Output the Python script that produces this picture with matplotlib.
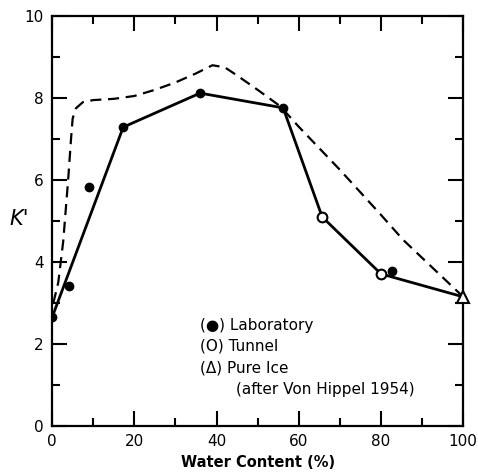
import numpy as np
import matplotlib
matplotlib.use("Agg")
from matplotlib import pyplot as plt
from matplotlib.ticker import MultipleLocator

# laboratory (filled circles), tunnel (open circles), pure ice (triangle)
lab_x = [0, 4.1, 9.0, 17.3, 36.0, 56.2, 82.7]
lab_y = [2.65, 3.41, 5.83, 7.29, 8.12, 7.76, 3.78]
tun_x = [65.7, 80.0]
tun_y = [5.10, 3.71]
ice_x = [100]
ice_y = [3.15]

# solid curve through selected points
solid_x = [0, 17.3, 36.0, 56.2, 65.7, 80.0, 100]
solid_y = [2.65, 7.29, 8.12, 7.76, 5.10, 3.71, 3.15]

# dashed curve
dash_x = [0.3, 1.5, 2.7, 3.9, 4.6, 5.0, 5.8, 7.5, 10, 15, 20, 25, 30, 35, 39,
          42, 45, 50, 55.5, 60, 70, 80, 85.4, 100]
dash_y = [3.0, 3.5, 4.5, 6.0, 7.0, 7.5, 7.75, 7.9, 7.95, 7.98, 8.05, 8.2, 8.38,
          8.6, 8.8, 8.75, 8.55, 8.2, 7.8, 7.3, 6.25, 5.15, 4.54, 3.15]

legend_lines = ["(\u25cf) Laboratory", "(O) Tunnel", "(\u0394) Pure Ice",
                "(after Von Hippel 1954)"]
legend_x = [36, 36, 36, 44.8]

plt.rcParams['font.family'] = ['DejaVu Sans']

fig = plt.figure(figsize=(4.78, 4.72), dpi=100)
ax = fig.add_axes([0.109, 0.0975, 0.86, 0.8685])

ax.plot(dash_x, dash_y, color='black', lw=1.6, ls=(0, (5, 3)))
ax.plot(solid_x, solid_y, color='black', lw=2.0)
ax.plot(lab_x, lab_y, 'o', color='black', ms=6, zorder=5)
ax.plot(tun_x, tun_y, 'o', mfc='white', mec='black', mew=1.5, ms=7, zorder=5)
ax.plot(ice_x, ice_y, '^', mfc='white', mec='black', mew=1.5, ms=9, zorder=5,
        clip_on=False)

for i, s in enumerate(legend_lines):
    ax.text(legend_x[i], 2.46 - i * 0.52, s, fontsize=11, va='center',
            ha='left', fontweight='medium')

ax.set_xlim(0, 100)
ax.set_ylim(0, 10)
ax.xaxis.set_major_locator(MultipleLocator(20))
ax.xaxis.set_minor_locator(MultipleLocator(10))
ax.yaxis.set_major_locator(MultipleLocator(2))
ax.yaxis.set_minor_locator(MultipleLocator(1))
ax.tick_params(which='both', direction='in', top=True, right=True, width=1.5,
               labelsize=11, pad=6)
ax.tick_params(which='major', length=11)
ax.tick_params(which='minor', length=6)
for sp in ax.spines.values():
    sp.set_linewidth(1.6)

ax.set_xlabel("Water Content (%)", fontsize=10.5, fontweight='bold', labelpad=4)
ax.set_ylabel("K'", fontsize=15, style='italic', rotation=0)
ax.yaxis.set_label_coords(-0.08, 0.48)

fig.savefig("out.png", dpi=100)
